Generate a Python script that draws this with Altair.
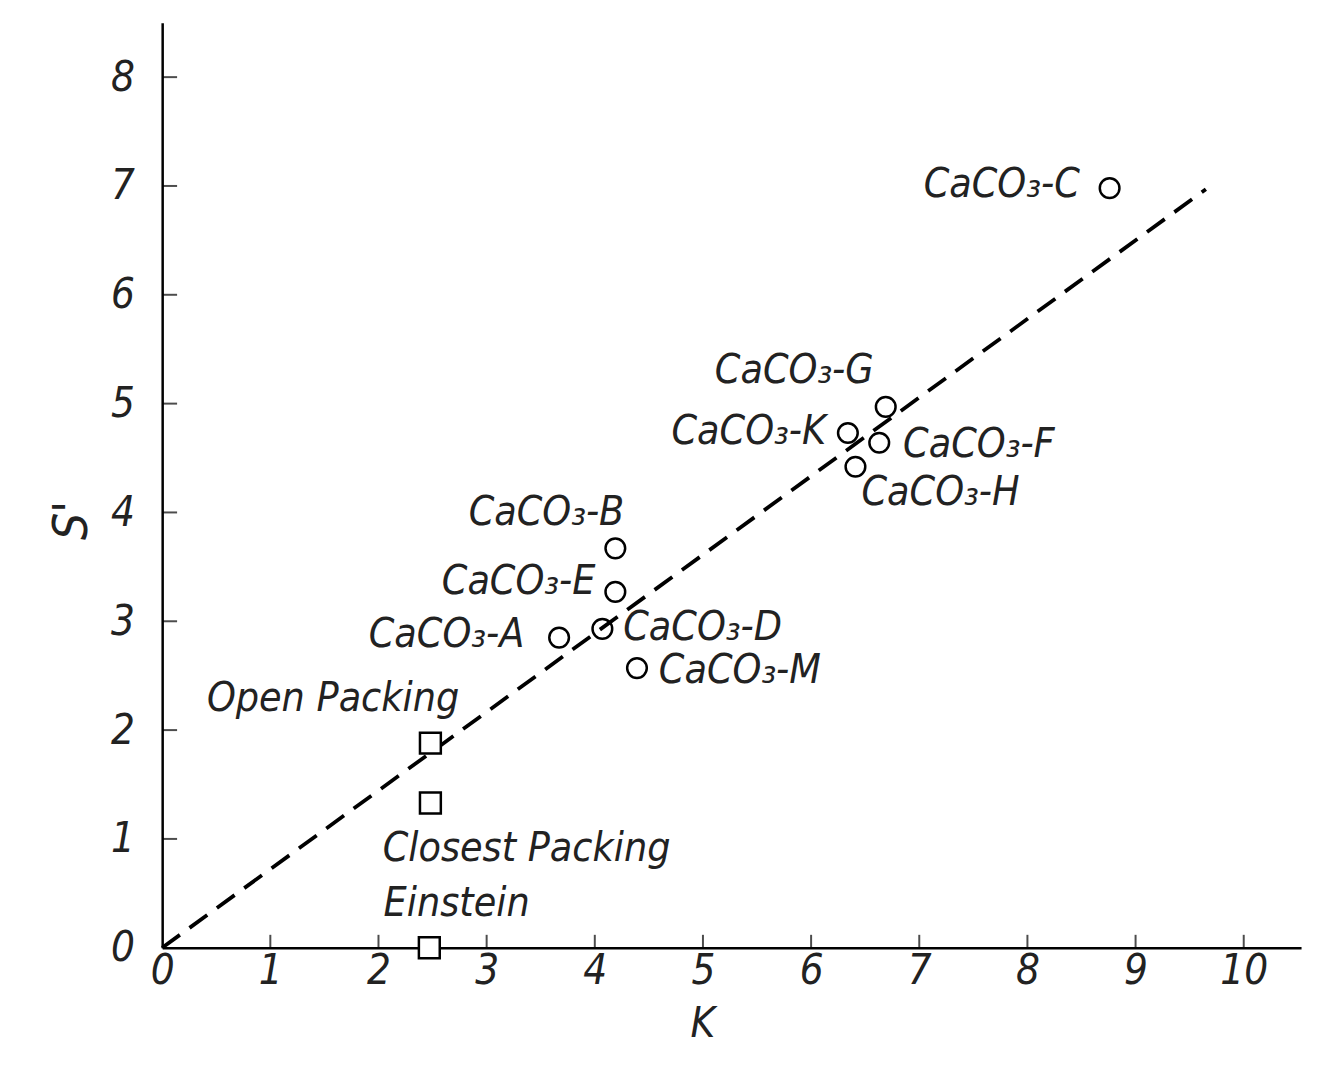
import altair as alt
import pandas as pd

# Data
labels = ["CaCO₃-C", "CaCO₃-G", "CaCO₃-K", "CaCO₃-F", "CaCO₃-H", "CaCO₃-B",
          "CaCO₃-E", "CaCO₃-D", "CaCO₃-A", "CaCO₃-M"]
k_vals = [8.76, 6.69, 6.34, 6.63, 6.41, 4.19, 4.19, 4.07, 3.67, 4.39]
s_vals = [6.98, 4.97, 4.73, 4.64, 4.42, 3.67, 3.27, 2.93, 2.85, 2.57]

pack_labels = ["Open Packing", "Closest Packing", "Einstein"]
pack_k = [2.48, 2.48, 2.47]
pack_s = [1.88, 1.33, 0.0]

line_k = [0.0, 9.65]
line_s = [0.0, 6.97]

x_ticks = [1, 2, 3, 4, 5, 6, 7, 8, 9, 10]
y_ticks = [1, 2, 3, 4, 5, 6, 7, 8]

FONT = "Liberation Sans Narrow, DejaVu Sans Condensed, Roboto Condensed, sans-serif"

pts = pd.DataFrame({"K": k_vals, "S": s_vals, "label": labels})
pk = pd.DataFrame({"K": pack_k, "S": pack_s, "label": pack_labels})
ln = pd.DataFrame({"K": line_k, "S": line_s})
xt = pd.DataFrame({"K": x_ticks, "S": [0] * len(x_ticks)})
yt = pd.DataFrame({"K": [0] * len(y_ticks), "S": y_ticks})

W, H = 1145, 930
xs = alt.Scale(domain=[0, 10.53], nice=False, zero=False)
ys = alt.Scale(domain=[0, 8.5], nice=False, zero=False)

x_axis = alt.Axis(values=list(range(0, 11)), format="d", ticks=False, grid=False,
                  domainWidth=2.5, domainColor="black",
                  labelFont=FONT, labelFontSize=42, labelFontStyle="italic",
                  labelColor="#222", labelPadding=3, labelAlign="center",
                  labelFlush=False, labelOverlap=False,
                  title="K", titleFont=FONT, titleFontSize=42, titleFontWeight="normal",
                  titleFontStyle="italic", titleColor="#222",
                  titleX=543, titleY=76, titleBaseline="middle", titleAnchor="start",
                  titleAlign="center")
y_axis = alt.Axis(values=list(range(0, 9)), format="d", ticks=False, grid=False,
                  domainWidth=2.5, domainColor="black",
                  labelFont=FONT, labelFontSize=42, labelFontStyle="italic",
                  labelColor="#222", labelPadding=28, labelFlush=False,
                  labelOverlap=False,
                  title="S'", titleFont=FONT, titleFontSize=48, titleFontWeight="normal",
                  titleFontStyle="italic", titleColor="#222",
                  titleX=-90, titleY=500, titleAngle=-90, titleBaseline="middle",
                  titleAlign="center")

base_x = alt.X("K:Q", scale=xs, axis=x_axis)
base_y = alt.Y("S:Q", scale=ys, axis=y_axis)

line = alt.Chart(ln).mark_line(color="black", strokeWidth=3.8,
                               strokeDash=[22, 12]).encode(
    x=alt.X("K:Q", scale=xs), y=alt.Y("S:Q", scale=ys))

circles = alt.Chart(pts).mark_point(shape="circle", size=390, filled=False,
                                    color="black", strokeWidth=2.5, opacity=1).encode(
    x=base_x, y=base_y)

squares = alt.Chart(pk).mark_point(shape="square", size=440, filled=False,
                                   fill="white", fillOpacity=1,
                                   color="black", strokeWidth=2.5, opacity=1).encode(
    x=alt.X("K:Q", scale=xs), y=alt.Y("S:Q", scale=ys))

xtick = alt.Chart(xt).mark_tick(orient="vertical", size=13, thickness=2,
                                color="black", yOffset=-6.5).encode(
    x=alt.X("K:Q", scale=xs), y=alt.Y("S:Q", scale=ys))
ytick = alt.Chart(yt).mark_tick(orient="horizontal", size=15, thickness=2,
                                color="black", xOffset=7.5).encode(
    x=alt.X("K:Q", scale=xs), y=alt.Y("S:Q", scale=ys))

# label offsets (dx, dy, align) per label
lab_dx = {"CaCO₃-C": -30, "CaCO₃-G": -12, "CaCO₃-K": -22, "CaCO₃-F": 24,
          "CaCO₃-H": 6, "CaCO₃-B": 9, "CaCO₃-E": -20, "CaCO₃-D": 21,
          "CaCO₃-A": -35, "CaCO₃-M": 22,
          "Open Packing": 29, "Closest Packing": -48, "Einstein": -46}
lab_dy = {"CaCO₃-C": -3, "CaCO₃-G": -36, "CaCO₃-K": -1, "CaCO₃-F": 2,
          "CaCO₃-H": 26, "CaCO₃-B": -35, "CaCO₃-E": -10, "CaCO₃-D": -1,
          "CaCO₃-A": -3, "CaCO₃-M": 3,
          "Open Packing": -44, "Closest Packing": 46, "Einstein": -44}
lab_align = {"CaCO₃-C": "right", "CaCO₃-G": "right", "CaCO₃-K": "right",
             "CaCO₃-F": "left", "CaCO₃-H": "left", "CaCO₃-B": "right",
             "CaCO₃-E": "right", "CaCO₃-D": "left", "CaCO₃-A": "right",
             "CaCO₃-M": "left", "Open Packing": "right",
             "Closest Packing": "left", "Einstein": "left"}

all_pts = pd.concat([pts, pk], ignore_index=True)
text_layers = []
for _, row in all_pts.iterrows():
    lbl = row["label"]
    t = alt.Chart(all_pts[all_pts["label"] == lbl]).mark_text(
        font=FONT, fontSize=41, fontStyle="italic", color="#222",
        align=lab_align[lbl], baseline="middle",
        dx=lab_dx[lbl], dy=lab_dy[lbl]).encode(
        x=alt.X("K:Q", scale=xs), y=alt.Y("S:Q", scale=ys), text="label:N")
    text_layers.append(t)

chart = alt.layer(circles, line, squares, xtick, ytick, *text_layers).properties(
    width=W, height=H,
    autosize=alt.AutoSizeParams(type="none"),
    padding={"left": 155, "top": 12, "right": 10, "bottom": 100},
).configure(background="white").configure_view(strokeWidth=0, stroke=None)

chart.save("out.html", embed_options={"renderer": "svg", "actions": False})
